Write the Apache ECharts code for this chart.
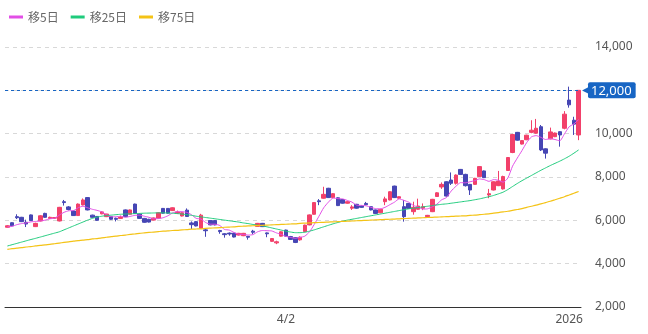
<!DOCTYPE html>
<html lang="ja">
<head>
	<meta charset="UTF-8">
	<title>Chart</title>
	<style>
		html,body{margin:0;padding:0;background:#fff;overflow:hidden;}
		#main{width:648px;height:334px;}
	</style>
</head>
<body>
	<div id="main"></div>
	<script src="https://cdn.jsdelivr.net/npm/echarts@6/dist/echarts.min.js"></script>
	<script>
		// daily candles
		var opens = [5680,5890,6170,6140,5910,6250,5710,5970,6320,6090, 6100,5970,6860,6620,6430,6220,6710,7050,6240,6180,
			6300,6170,6170,6090,6090,6480,6280,6750,6290,6090, 6050,6010,6100,6550,6550,6450,6330,6200,6470,5880,
			5940,5640,5560,5990,5990,5530,5380,5410,5410,5320, 5290,5260,5500,5720,5860,5420,5030,4960,5270,5550,
			5250,5200,5100,5480,5790,6280,6900,7020,7480,7050, 7040,6960,6790,6560,6740,6660,6780,6630,6480,6350,
			6860,6940,7580,7020,6630,6780,6400,6510,6560,6170, 6400,7100,7540,7780,7860,7710,8350,8120,7660,7660,
			8020,8280,7170,7400,7600,7450,8300,9130,10060,9520, 9720,10060,10020,10320,9300,9760,9860,10090,10250,11550,
			10620,9940];
		var closes = [5750,5750,6120,5940,5830,5990,5860,6210,6140,6140, 6130,6600,6820,6500,6220,6750,6940,6480,6140,6000,
			6390,6290,6050,6050,6150,6170,6480,6320,6090,5910, 5920,6110,6350,6330,6330,6580,6390,6350,6180,5800,
			5740,6240,5520,5790,5790,5480,5340,5370,5230,5400, 5400,5220,5450,5860,5710,5380,5160,5010,5470,5270,
			5120,4980,5220,5780,6250,6820,6860,7200,7050,7230, 6680,6790,6860,6620,6560,6600,6720,6480,6320,6510,
			6990,7320,7050,7090,6170,6550,6600,6660,6630,6230, 6970,7270,7660,7120,7710,8090,8120,7600,7400,7940,
			8480,7970,7230,7780,7810,8020,8900,9960,9700,9680, 9930,10160,10250,9250,9100,10080,10030,9940,10900,11330,
			10440,12000];
		var lows = [5660,5730,6060,5920,5690,5970,5690,5950,6120,6060, 6070,5950,6680,6460,6200,6200,6690,6460,6120,5980,
			6280,6150,6030,5950,6070,6150,6260,6300,6070,5890, 5900,5990,6080,6310,6310,6430,6300,6180,6160,5600,
			5720,5620,5240,5770,5770,5380,5200,5290,5210,5300, 5270,5110,5360,5700,5690,5220,5010,4900,5250,5250,
			5100,4950,5060,5460,5770,6260,6700,7000,7030,7030, 6660,6770,6770,6480,6540,6580,6700,6460,6300,6330,
			6700,6920,7030,7000,5940,6530,6260,6490,6470,6150, 6380,7080,7450,7100,7630,7650,8100,7560,7170,7640,
			8000,7950,7020,7380,7580,7420,8280,9100,9680,9500, 9700,10020,10000,9200,8850,9740,9840,9400,10200,11200,
			9940,9700];
		var highs = [5780,5910,6280,6160,6030,6270,5890,6240,6350,6170, 6150,6620,6940,6660,6450,6780,7010,7070,6260,6200,
			6420,6300,6190,6130,6220,6500,6500,6770,6310,6110, 6070,6130,6370,6570,6560,6600,6450,6370,6550,5950,
			5960,6300,5640,6000,6000,5560,5410,5440,5420,5420, 5420,5280,5560,5880,5880,5440,5180,5060,5490,5570,
			5280,5220,5260,5800,6270,6840,6980,7550,7500,7250, 7060,6980,6880,6700,6760,6680,6850,6650,6500,6530,
			7090,7340,7600,7110,6940,6800,6860,7000,6780,6250, 6990,7300,7750,7800,8210,8120,8370,8150,7680,7960,
			8500,8300,7450,7800,8280,8060,8920,9990,10080,9700, 9950,10620,10680,10400,9320,10280,10050,10110,11040,12170,
			10780,12000];

		// moving averages as drawn
		var ma5 = [5700,5720,5800,5850,5880,5930,5950,5970,6010,6070, 6100,6240,6370,6440,6450,6580,6650,6580,6510,6460,
			6390,6260,6170,6160,6190,6140,6180,6230,6240,6190, 6140,6070,6080,6120,6210,6340,6400,6400,6370,6260,
			6090,6060,5900,5820,5820,5760,5580,5550,5440,5360, 5350,5320,5340,5470,5530,5520,5510,5420,5350,5260,
			5210,5170,5210,5270,5470,5810,6190,6580,6840,7030, 7000,6990,6920,6840,6700,6690,6670,6600,6540,6530,
			6600,6720,6840,6990,6920,6840,6690,6610,6520,6530, 6620,6750,6950,7050,7350,7570,7740,7730,7780,7830,
			7910,7880,7800,7880,7850,7760,7950,8500,8870,9220, 9590,9850,9910,9830,9730,9770,9730,9670,9990,10320,
			10450,10650];
		var ma25 = [4815,4875,4935,4995,5055,5115,5170,5230,5290,5350, 5410,5470,5560,5650,5740,5830,5920,6010,6090,6150,
			6190,6220,6240,6260,6280,6290,6300,6310,6320,6330, 6335,6340,6345,6345,6340,6330,6310,6290,6260,6230,
			6190,6160,6130,6100,6070,6040,6010,5980,5950,5920, 5880,5850,5810,5780,5740,5700,5650,5600,5550,5500,
			5460,5430,5430,5450,5500,5560,5630,5700,5770,5840, 5900,5960,6010,6050,6090,6130,6170,6210,6250,6290,
			6330,6370,6410,6450,6490,6530,6560,6590,6620,6650, 6680,6710,6740,6760,6790,6820,6850,6880,6910,6950,
			6990,7040,7090,7150,7220,7300,7420,7560,7700,7830, 7950,8070,8190,8310,8420,8530,8630,8730,8840,8960,
			9100,9250];
		var ma75 = [4660,4690,4720,4740,4770,4790,4820,4840,4870,4890, 4920,4950,4980,5010,5040,5060,5090,5110,5140,5160,
			5190,5220,5250,5270,5300,5320,5350,5370,5400,5420, 5440,5460,5480,5500,5510,5530,5540,5560,5570,5590,
			5600,5610,5630,5640,5650,5660,5680,5690,5700,5720, 5730,5740,5750,5760,5770,5780,5790,5800,5810,5820,
			5830,5840,5860,5870,5880,5890,5900,5910,5920,5930, 5940,5950,5960,5970,5980,5990,6000,6010,6020,6030,
			6040,6050,6060,6070,6080,6090,6100,6110,6120,6130, 6140,6150,6160,6170,6180,6190,6200,6210,6230,6240,
			6260,6280,6300,6330,6360,6390,6420,6460,6500,6540, 6600,6650,6700,6760,6820,6880,6950,7020,7090,7170,
			7250,7330];

		var tickLabels = {59: '4/2', 119: '2026'};
		var categories = opens.map(function(v, i){ return 'd' + i; });
		var candles = opens.map(function(o, i){ return [o, closes[i], lows[i], highs[i]]; });

		var upColor = '#f2406a', downColor = '#4646b4', tagColor = '#1765c4';
		function fmt(v){ return Number(v).toLocaleString('en-US'); }

		var chart = echarts.init(document.getElementById('main'));
		chart.setOption({
			animation: false,
			textStyle: {fontFamily: 'Noto Sans'},
			legend: {
				data: ['移5日', '移25日', '移75日'],
				left: 4, top: 6,
				icon: 'rect', itemWidth: 14, itemHeight: 3, itemGap: 12,
				textStyle: {color: '#666', fontSize: 12, fontFamily: 'Noto Sans CJK JP'}
			},
			grid: {left: 5, right: 67, top: 47, bottom: 27},
			xAxis: {
				type: 'category',
				data: categories,
				axisLine: {lineStyle: {color: '#333', width: 1}},
				axisTick: {show: false},
				axisLabel: {
					color: '#555', fontSize: 12, margin: 7,
					interval: function(i){ return tickLabels[i] !== undefined; },
					formatter: function(v, i){ return tickLabels[i] || ''; }
				},
				splitLine: {show: false}
			},
			yAxis: {
				type: 'value', position: 'right',
				min: 2000, max: 14000, interval: 2000,
				axisLine: {show: false}, axisTick: {show: false},
				axisLabel: {color: '#555', fontSize: 12, margin: 14, formatter: fmt},
				splitLine: {lineStyle: {color: '#d8d8d8', type: [4, 4]}}
			},
			series: [{
				type: 'candlestick',
				data: candles,
				barWidth: 4,
				itemStyle: {color: upColor, color0: downColor, borderColor: upColor, borderColor0: downColor, borderWidth: 1},
				markLine: {
					silent: true,
					symbol: ['none', 'none'],
					lineStyle: {color: tagColor, type: [3, 3], width: 1},
					label: {
						position: 'end', distance: 1,
						formatter: function(p){ return '{a|◀}{b|' + fmt(p.value) + '}'; },
						rich: {
							a: {color: tagColor, fontSize: 10, padding: [0, -2, 0, 0]},
							b: {backgroundColor: tagColor, color: '#fff', fontSize: 13, padding: [2, 4, 1, 3], borderRadius: 2}
						}
					},
					data: [{yAxis: closes[closes.length - 1]}]
				}
			}, {
				name: '移5日', type: 'line', data: ma5, smooth: 0.2, showSymbol: false,
				lineStyle: {color: '#e24fe6', width: 1}, itemStyle: {color: '#e24fe6'}
			}, {
				name: '移25日', type: 'line', data: ma25, smooth: 0.2, showSymbol: false,
				lineStyle: {color: '#1fcb7c', width: 1}, itemStyle: {color: '#1fcb7c'}
			}, {
				name: '移75日', type: 'line', data: ma75, smooth: 0.2, showSymbol: false,
				lineStyle: {color: '#f4c316', width: 1.2}, itemStyle: {color: '#f4c316'}
			}]
		});
	</script>
</body>
</html>
